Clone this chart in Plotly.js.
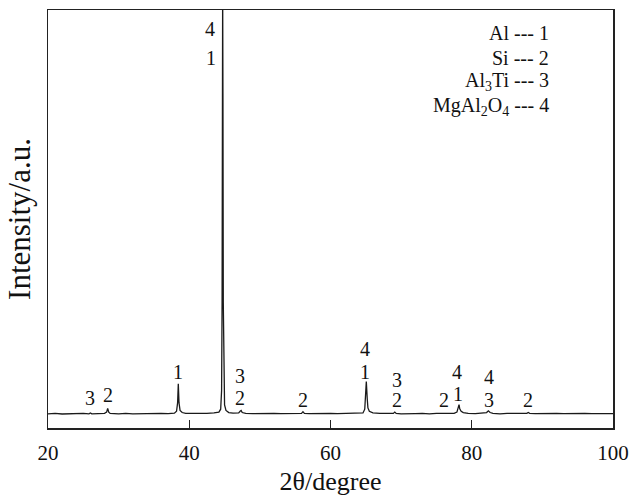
<!DOCTYPE html>
<html>
<head>
<meta charset="utf-8">
<script src="https://cdn.plot.ly/plotly-3.0.1.min.js"></script>
<style>html,body{margin:0;padding:0;background:#fff;}#chart{width:630px;height:498px;}</style>
</head>
<body>
<div id="chart"></div>
<script>
// XRD pattern (2θ in degrees, intensity in arbitrary units)
const twoTheta = [20.0,21.0,22.0,23.0,24.0,25.0,25.8,26.0,26.2,27.0,28.0,28.3,28.45,28.6,28.8,30,31,32,33,34,35,36,37,37.9,38.2,38.35,38.45,38.55,38.7,39.0,39.5,40.5,41.5,42.5,43.5,44.2,44.45,44.58,44.65,44.7,44.73,44.77,44.82,44.9,45.0,45.2,45.6,46.2,47.0,47.2,47.35,47.5,48,49,50,51,52,53,54,55,55.9,56.1,56.3,57,58,59,60,61,62,63,64,64.6,64.85,64.95,65.07,65.2,65.3,65.5,66,67,68,68.9,69.1,69.3,70,71,72,73,74,75,76,76.4,76.6,77.5,77.9,78.1,78.2,78.3,78.5,78.8,79.5,80.5,81.5,82.1,82.35,82.6,83,84,85,86,87,87.8,88.0,88.2,89,90,91,92,93,94,95,96,97,98,99,100];
const intensity = [34,35,33.5,34.5,34,35,34,36,34,34.5,35,38,47,38,35,34,35,34,34.5,35,34,35,34.5,35.5,40,60,106,60,42,37,35,34.5,35,35,36,38,45,90,300,800,1050,800,300,90,55,42,37,35.5,36,40,42,37,35,34.5,35,34,35,34.5,35,34,35,39,35,34.5,35,34,35,34.5,35,34,35,36,45,70,111,70,48,40,36,35,34.5,35,38,35,34,35,34.5,35,34,35,34.5,36,34.5,35,38,48,56,46,40,37,35,34.5,35,37,41,37,35,34,35,34.5,35,35,37,35,34.5,35,34,35,34.5,35,34,35,34.5,35,34,34.5];

// Phase markers above peaks
const markText = ["3","2","1","4","1","3","2","2","4","1","3","2","2","4","1","4","3","2"];
const markX    = [25.9,28.5,38.4,43.0,43.1,47.2,47.2,56.1,64.9,64.9,69.4,69.4,76.1,77.9,78.0,82.4,82.4,88.0];
const markY    = [72,79,134,954,885,124,72,67,190,134,115,67,67,134,81,122,67,67];

// Legend key
const keyText = ["Al --- 1","Si --- 2","Al<sub>3</sub>Ti --- 3","MgAl<sub>2</sub>O<sub>4</sub> --- 4"];
const keyY = [0.945,0.885,0.828,0.768];

const FONT = "Liberation Serif, Times New Roman, serif";
const ann = [];
for (let i = 0; i < markText.length; i++) {
  ann.push({x: markX[i], y: markY[i], xref: "x", yref: "y", text: markText[i], showarrow: false,
    xanchor: "center", yanchor: "middle", font: {family: FONT, size: 20, color: "#111"}});
}
for (let i = 0; i < keyText.length; i++) {
  ann.push({x: 0.891, y: keyY[i], xref: "paper", yref: "paper", text: keyText[i], showarrow: false,
    xanchor: "right", yanchor: "middle", align: "right", font: {family: FONT, size: 20, color: "#111"}});
}

const trace = {x: twoTheta, y: intensity, type: "scatter", mode: "lines",
  line: {color: "#1a1a1a", width: 1.3}, hoverinfo: "skip"};

const layout = {
  width: 630, height: 498,
  margin: {l: 48, r: 17, t: 10, b: 70},
  paper_bgcolor: "#fff", plot_bgcolor: "#fff",
  showlegend: false,
  font: {family: FONT, color: "#111", size: 21},
  xaxis: {range: [20, 100], tickvals: [20, 40, 60, 80, 100], ticktext: ["20","40","60","80","100"],
    ticks: "inside", ticklen: 8, tickwidth: 1.2, tickcolor: "#222",
    showline: true, linecolor: "#222", linewidth: 1.5, mirror: true,
    showgrid: false, zeroline: false, ticklabelstandoff: 5,
    tickfont: {family: FONT, size: 21, color: "#111"},
    title: {text: "2θ/degree", font: {family: FONT, size: 26, color: "#111"}, standoff: 8}},
  yaxis: {range: [0, 1000], showticklabels: false, ticks: "",
    showline: true, linecolor: "#222", linewidth: 1.5, mirror: true,
    showgrid: false, zeroline: false,
    title: {text: "Intensity/a.u.", font: {family: FONT, size: 31, color: "#111"}, standoff: 6}},
  annotations: ann
};

Plotly.newPlot("chart", [trace], layout, {staticPlot: true, displayModeBar: false});
</script>
</body>
</html>
